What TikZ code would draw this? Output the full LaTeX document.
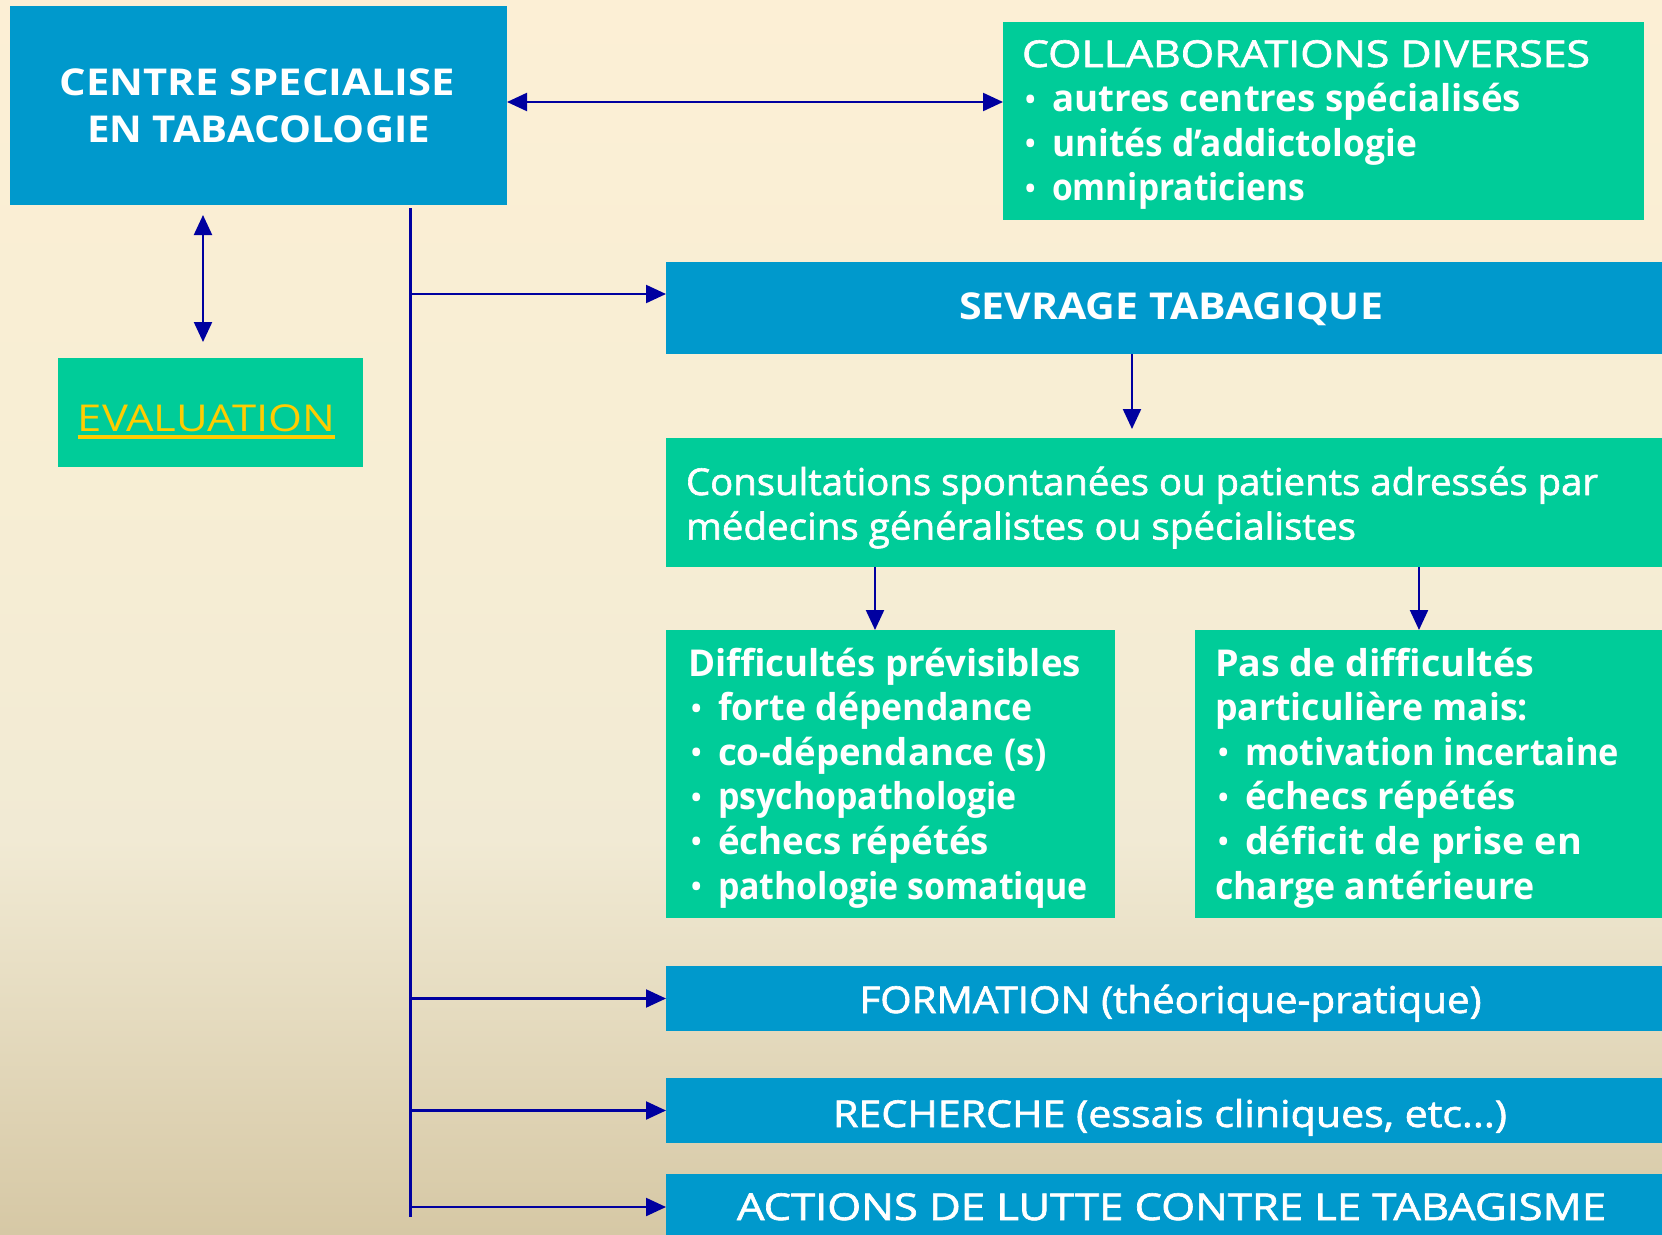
\documentclass[tikz,border=0pt]{standalone}
\usepackage{fontspec}
\setmainfont{Open Sans}
\newfontfamily\medfont{Open Sans}[FakeBold=1.6]
\usepackage{graphicx}
\usetikzlibrary{arrows.meta,calc}
\definecolor{boxblue}{RGB}{0,153,204}
\definecolor{boxgreen}{RGB}{0,204,153}
\definecolor{arrblue}{RGB}{0,0,160}
\definecolor{evalyellow}{RGB}{255,204,0}
\pgfdeclareverticalshading{bgshade}{100bp}{%
  rgb(0bp)=(0.839,0.784,0.647); rgb(25bp)=(0.839,0.784,0.647);
  rgb(41bp)=(0.945,0.918,0.831); rgb(55.5bp)=(0.969,0.933,0.831);
  rgb(75bp)=(0.988,0.937,0.835); rgb(100bp)=(0.988,0.937,0.835)}
\newcommand\fw[2]{\resizebox{#1pt}{\height}{#2}}
\newcommand\bul{\makebox[30pt][l]{\hspace{3pt}\raisebox{2.5pt}{\scalebox{0.75}{•}}}}
\newcommand\txtfont{\fontsize{37}{44.6}\selectfont}
\begin{document}
\begin{tikzpicture}[x=1pt,y=-1pt,
  boxbase/.style={draw=none, inner sep=0pt, outer sep=0pt, anchor=north west},
  bluebox/.style={boxbase, fill=boxblue},
  greenbox/.style={boxbase, fill=boxgreen},
  txtr/.style={inner sep=0pt, outer sep=0pt, text=white, font=\medfont\txtfont},
  txtb/.style={inner sep=0pt, outer sep=0pt, text=white, font=\txtfont\bfseries},
  arr/.style={draw=arrblue, line width=2.2pt, -{Triangle[length=20pt,width=18pt]}},
  dblarr/.style={draw=arrblue, line width=2.2pt, {Triangle[length=20pt,width=18pt]}-{Triangle[length=20pt,width=18pt]}},
  trunkline/.style={draw=arrblue, line width=3pt}
]
\shade[shading=bgshade] (0,0) rectangle (1662,1234);
\useasboundingbox (0,0) rectangle (1662,1234);

% boxes
\node[bluebox, minimum width=497pt, minimum height=199pt] (centre) at (10,6) {};
\node[greenbox, minimum width=641pt, minimum height=198pt] (collab) at (1003,22) {};
\node[greenbox, minimum width=305pt, minimum height=109pt] (eval) at (58,358) {};
\node[bluebox, minimum width=1008pt, minimum height=92pt] (sevrage) at (666,262) {};
\node[greenbox, minimum width=1008pt, minimum height=129pt] (consult) at (666,438) {};
\node[greenbox, minimum width=449pt, minimum height=288pt] (diff) at (666,630) {};
\node[greenbox, minimum width=479pt, minimum height=288pt] (pas) at (1195,630) {};
\node[bluebox, minimum width=1008pt, minimum height=65pt] (formation) at (666,966) {};
\node[bluebox, minimum width=1008pt, minimum height=65pt] (recherche) at (666,1078) {};
\node[bluebox, minimum width=1008pt, minimum height=66pt] (actions) at (666,1174) {};

% texts
\node[txtb, anchor=base] (centret1) at (257.5,95) {\fw{395}{CENTRE SPECIALISE}};
\node[txtb, anchor=base] (centret2) at (258.5,142) {\fw{343}{EN TABACOLOGIE}};
\node[txtr, anchor=base west] (collabt) at (1022,67) {\parbox[t]{640pt}{%
  \fw{568}{COLLABORATIONS DIVERSES}\\
  \normalfont\txtfont\bfseries\bul\fw{469}{autres centres spécialisés}\\
  \bul\fw{365}{unités d’addictologie}\\
  \bul\fw{253}{omnipraticiens}}};
\node[txtr, anchor=base, text=evalyellow, font=\txtfont\normalfont\txtfont] (evalt) at (206.5,431) {\fw{257}{EVALUATION}};
\draw[evalyellow, line width=3.2pt] ($(evalt.base west)+(0,6)$) -- ($(evalt.base east)+(0,6)$);
\node[txtb, anchor=base] (sevraget) at (1171,319) {\fw{424}{SEVRAGE TABAGIQUE}};
\node[txtr, anchor=base west] (consultt) at (686,495) {\parbox[t]{1000pt}{%
  \fw{912}{Consultations spontanées ou patients adressés par}\\
  \fw{670}{médecins généralistes ou spécialistes}}};
\node[txtb, anchor=base west] (difft) at (688,676) {\parbox[t]{440pt}{%
  \fw{393}{Difficultés prévisibles}\\
  \bul\fw{315}{forte dépendance}\\
  \bul\fw{329}{co-dépendance (s)}\\
  \bul\fw{299}{psychopathologie}\\
  \bul\fw{271}{échecs répétés}\\
  \bul\fw{370}{pathologie somatique}}};
\node[txtb, anchor=base west] (past) at (1215,676) {\parbox[t]{440pt}{%
  \fw{319}{Pas de difficultés}\\
  \fw{313}{particulière mais:}\\
  \bul\fw{374}{motivation incertaine}\\
  \bul\fw{271}{échecs répétés}\\
  \bul\fw{337}{déficit de prise en}\\
  \fw{320}{charge antérieure}}};
\node[txtr, anchor=base] (formationt) at (1170.5,1013) {\fw{622}{FORMATION (théorique-pratique)}};
\node[txtr, anchor=base] (recherchet) at (1170,1127) {\fw{674}{RECHERCHE (essais cliniques, etc...)}};
\node[txtr, anchor=base] (actionst) at (1171.5,1220) {\fw{869}{ACTIONS DE LUTTE CONTRE LE TABAGISME}};

% connectors
\draw[dblarr] ($(centre.north east)+(0,96)$) -- ($(collab.north west)+(0,80)$);
\draw[dblarr] ($(centre.south west)+(193,10)$) -- ($(eval.north west)+(145,-16)$);
\coordinate (trunktop) at (410,208);
\coordinate (trunkbot) at (410,1217);
\coordinate (branchsev) at (410,294);
\draw[trunkline] (trunktop) -- (trunkbot);
\draw[arr] (branchsev) -- (branchsev -| sevrage.west);
\draw[arr] (trunktop |- formation.west) -- (formation.west);
\draw[arr] (trunktop |- recherche.west) -- (recherche.west);
\draw[arr] (trunktop |- actions.west) -- (actions.west);
\draw[arr] ($(sevrage.south west)+(466,0)$) -- ($(consult.north west)+(466,-9)$);
\draw[arr] ($(consult.south west)+(209,0)$) -- ($(diff.north west)+(209,0)$);
\draw[arr] ($(consult.south west)+(753,0)$) -- ($(pas.north west)+(224,0)$);
\end{tikzpicture}
\end{document}
